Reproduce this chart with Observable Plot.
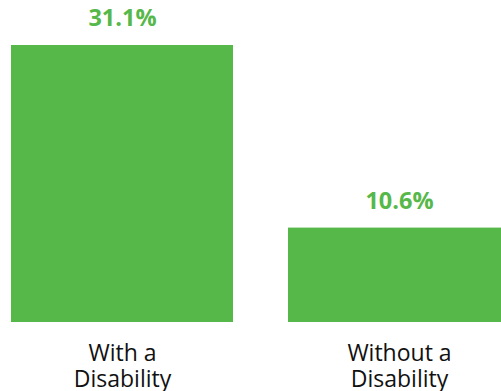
<!DOCTYPE html>
<html>
<head>
<meta charset="utf-8">
<script src="https://cdn.jsdelivr.net/npm/d3@7"></script>
<script src="https://cdn.jsdelivr.net/npm/@observablehq/plot@0.6"></script>
<style>
  html, body { margin: 0; padding: 0; background: #fff; overflow: hidden; }
  #chart svg { display: block; }
</style>
</head>
<body>
<div id="chart"></div>
<script>
const categories = ["With a\nDisability", "Without a\nDisability"];
const values = [31.1, 10.6];
const valueLabels = ["31.1%", "10.6%"];

const data = categories.map((c, i) => ({category: c, value: values[i], label: valueLabels[i]}));
const green = "#57b84a";

const chart = Plot.plot({
  width: 501,
  height: 391,
  margin: 0,
  style: {fontFamily: "'Open Sans', Lato, sans-serif", overflow: "visible"},
  x: {domain: categories, range: [11, 510], paddingInner: 0.1986, paddingOuter: 0, axis: null},
  y: {domain: [0, 31.1], range: [322, 45], axis: null},
  marks: [
    Plot.barY(data, {x: "category", y: "value", fill: green}),
    Plot.text(data, {x: "category", y: "value", text: "label", lineAnchor: "bottom", dy: -19.5,
      fill: green, fontSize: 23.5, fontWeight: "bold"}),
    Plot.text(data, {x: "category", y: () => 0, text: "category", lineAnchor: "bottom", dy: 64,
      fill: "#111", fontSize: 23, lineHeight: 1.13})
  ]
});
document.getElementById("chart").appendChild(chart);
</script>
</body>
</html>
